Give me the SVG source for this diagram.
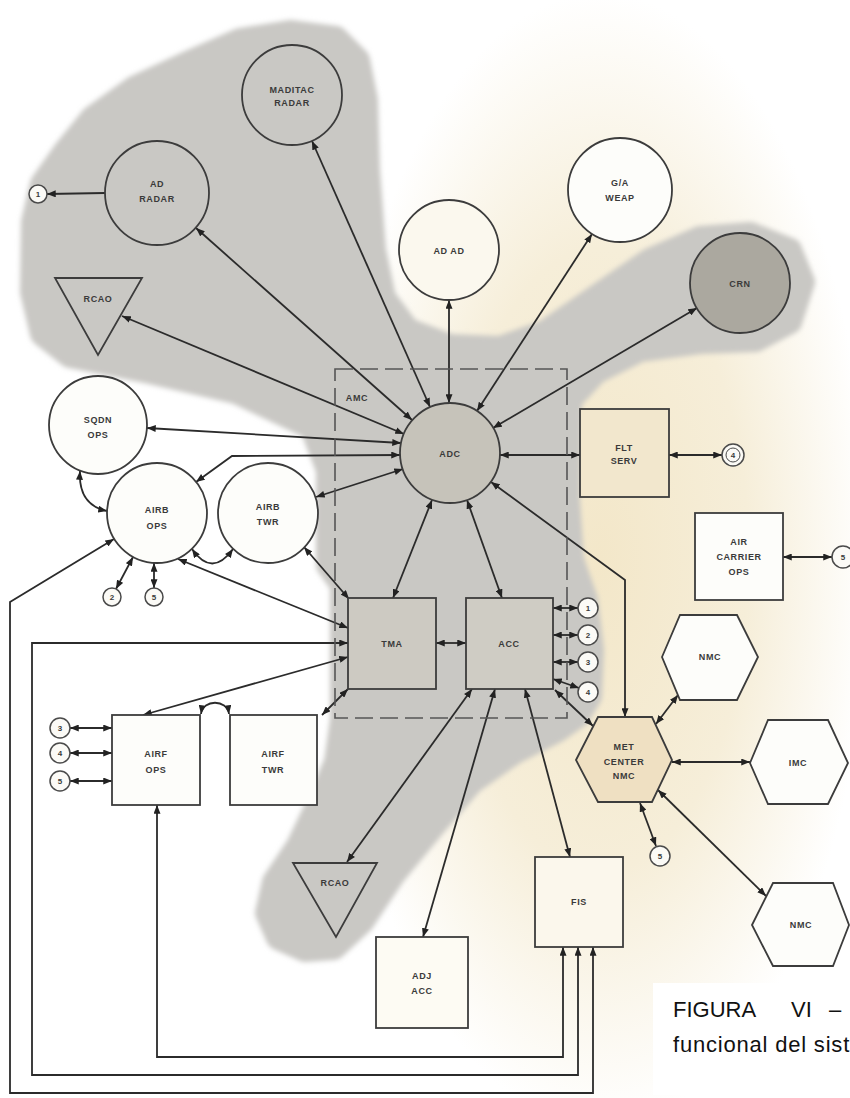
<svg xmlns="http://www.w3.org/2000/svg" width="850" height="1098" viewBox="0 0 850 1098">
  <defs>
    <radialGradient id="paper" gradientUnits="userSpaceOnUse" cx="600" cy="560" r="270" gradientTransform="translate(600 560) scale(1 2.1) translate(-600 -560)">
      <stop offset="0" stop-color="#f3e7c9"/>
      <stop offset="0.55" stop-color="#f6eed9"/>
      <stop offset="1" stop-color="#ffffff"/>
    </radialGradient>
    <filter id="soft" x="-5%" y="-5%" width="110%" height="110%">
      <feGaussianBlur stdDeviation="2.5"/>
    </filter>
    <marker id="ah" viewBox="0 0 10 8" refX="10" refY="4" markerWidth="9" markerHeight="7" markerUnits="userSpaceOnUse" orient="auto-start-reverse">
      <path d="M0,0 L10,4 L0,8 z" fill="#222"/>
    </marker>
    <style>
      .n { stroke: #3c3c3c; stroke-width: 1.8; }
      .w { fill: #fdfdfa; }
      .t { fill: none; }
      .lbl { font-family: "Liberation Sans", Arial, sans-serif; font-size: 9px; font-weight: bold; fill: #3a3a3a; text-anchor: middle; letter-spacing: 0.6px; }
      .num { font-family: "Liberation Sans", Arial, sans-serif; font-size: 8px; font-weight: bold; fill: #3a3a3a; text-anchor: middle; }
      .sc { fill: #fbfaf6; stroke: #4a4a4a; stroke-width: 1.5; }
      .c { fill: none; stroke: #2b2b2b; stroke-width: 1.8; marker-start: url(#ah); marker-end: url(#ah); }
      .c1 { fill: none; stroke: #2b2b2b; stroke-width: 1.8; marker-end: url(#ah); }
      .cap { font-family: "Liberation Sans", Arial, sans-serif; font-size: 22px; fill: #111; }
    </style>
  </defs>

  <!-- paper background -->
  <rect width="850" height="1098" fill="#ffffff"/>
  <rect width="850" height="1098" fill="url(#paper)"/>

  <!-- shaded region -->
  <g id="shade">
    <polygon filter="url(#soft)" fill="#c9c8c4" stroke="#c9c8c4" stroke-width="24" stroke-linejoin="round"
      points="66,150 92,118 134,88 190,62 240,40 290,32 336,38 358,60 366,100 368,170 374,250 384,298 408,330 450,346 500,348 545,332 600,294 650,260 700,238 750,234 790,250 803,282 790,322 756,340 700,342 640,350 596,372 570,400 568,500 572,560 586,600 592,650 590,696 578,716 558,730 515,752 472,782 432,828 394,874 362,922 334,948 305,950 278,938 267,913 274,882 298,846 320,800 336,762 342,720 342,585 328,565 328,470 312,428 236,392 150,372 70,356 42,334 32,292 33,222 42,184"/>
  </g>

  <!-- connectors -->
  <g id="connectors">
    <path class="c1" d="M105,193 L47,194"/>
    <path class="c" d="M196,228 L412,420"/>
    <path class="c" d="M312,141 L430,407"/>
    <path class="c" d="M449,300 L449,403"/>
    <path class="c" d="M592,234 L477,411"/>
    <path class="c" d="M697,308 L493,428"/>
    <path class="c" d="M122,316 L404,434"/>
    <path class="c" d="M147,428 L401,443"/>
    <path class="c" d="M196,482 L232,456 L400,455"/>
    <path class="c" d="M316,497 L403,469"/>
    <path class="c" d="M80,471 Q78,505 107,511"/>
    <path class="c" d="M192,549 Q212,578 233,549"/>
    <path class="c" d="M133,557 L116,589"/>
    <path class="c" d="M154,563 L154,588"/>
    <path class="c" d="M178,559 L348,628"/>
    <path class="c" d="M304,547 L349,599"/>
    <path class="c" d="M114,539 L10,602 L10,1093 L593,1093 L593,947"/>
    <path class="c" d="M348,643 L32,643 L32,1075 L578,1075 L578,947"/>
    <path class="c" d="M157,805 L157,1057 L563,1057 L563,947"/>
    <path class="c" d="M348,657 L143,715"/>
    <path class="c" d="M348,689 L322,715"/>
    <path class="c" d="M201,714 C203,699 227,699 229,714"/>
    <path class="c" d="M70,728 L112,728"/>
    <path class="c" d="M70,753 L112,753"/>
    <path class="c" d="M70,781 L112,781"/>
    <path class="c" d="M432,500 L393,598"/>
    <path class="c" d="M467,500 L502,598"/>
    <path class="c" d="M436,643 L466,643"/>
    <path class="c" d="M553,608 L578,608"/>
    <path class="c" d="M553,635 L578,635"/>
    <path class="c" d="M553,662 L578,662"/>
    <path class="c" d="M553,679 L579,688"/>
    <path class="c" d="M555,690 L593,726"/>
    <path class="c" d="M491,482 L625,580 L625,717"/>
    <path class="c" d="M472,689 L347,862"/>
    <path class="c" d="M495,689 L423,937"/>
    <path class="c" d="M525,689 L570,857"/>
    <path class="c" d="M500,455 L580,455"/>
    <path class="c" d="M669,455 L722,455"/>
    <path class="c" d="M783,557 L832,557"/>
    <path class="c" d="M656,724 L678,695"/>
    <path class="c" d="M672,762 L750,762"/>
    <path class="c" d="M658,790 L766,896"/>
    <path class="c" d="M640,803 L656,846"/>
  </g>

  <!-- AMC boundary -->
  <g id="amc">
    <rect x="335" y="369" width="232" height="349" fill="none" stroke="#555" stroke-width="1.6" stroke-dasharray="18 7"/>
    <text class="lbl" x="357" y="401">AMC</text>
  </g>

  <!-- nodes -->
  <g id="maditac-radar">
    <circle class="n t" cx="292" cy="95" r="50"/>
    <text class="lbl" x="292" y="93">MADITAC</text>
    <text class="lbl" x="292" y="106">RADAR</text>
  </g>
  <g id="ad-radar">
    <circle class="n t" cx="157" cy="193" r="52"/>
    <text class="lbl" x="157" y="187">AD</text>
    <text class="lbl" x="157" y="202">RADAR</text>
  </g>
  <g id="rcao-top">
    <polygon class="n t" points="55,278 142,278 98,355"/>
    <text class="lbl" x="98" y="302">RCAO</text>
  </g>
  <g id="ga-weap">
    <circle class="n w" cx="620" cy="190" r="52"/>
    <text class="lbl" x="620" y="186">G/A</text>
    <text class="lbl" x="620" y="201">WEAP</text>
  </g>
  <g id="ad-ad">
    <circle class="n" fill="#fbf8ee" cx="449" cy="250" r="50"/>
    <text class="lbl" x="449" y="254">AD AD</text>
  </g>
  <g id="crn">
    <circle class="n" fill="#aba89f" cx="740" cy="283" r="50"/>
    <text class="lbl" x="740" y="287">CRN</text>
  </g>
  <g id="sqdn-ops">
    <circle class="n w" cx="98" cy="425" r="49"/>
    <text class="lbl" x="98" y="423">SQDN</text>
    <text class="lbl" x="98" y="438">OPS</text>
  </g>
  <g id="airb-ops">
    <circle class="n w" cx="157" cy="513" r="50"/>
    <text class="lbl" x="157" y="513">AIRB</text>
    <text class="lbl" x="157" y="529">OPS</text>
  </g>
  <g id="airb-twr">
    <circle class="n w" cx="268" cy="513" r="50"/>
    <text class="lbl" x="268" y="510">AIRB</text>
    <text class="lbl" x="268" y="525">TWR</text>
  </g>
  <g id="adc">
    <circle class="n" fill="#c6c3ba" cx="450" cy="453" r="50"/>
    <text class="lbl" x="450" y="457">ADC</text>
  </g>
  <g id="flt-serv">
    <rect class="n" fill="#f2e7cd" x="580" y="409" width="89" height="88"/>
    <text class="lbl" x="624" y="451">FLT</text>
    <text class="lbl" x="624" y="464">SERV</text>
  </g>
  <g id="air-carrier-ops">
    <rect class="n w" x="695" y="513" width="88" height="87"/>
    <text class="lbl" x="739" y="545">AIR</text>
    <text class="lbl" x="739" y="560">CARRIER</text>
    <text class="lbl" x="739" y="575">OPS</text>
  </g>
  <g id="tma">
    <rect class="n" fill="#cdcac2" x="348" y="598" width="88" height="91"/>
    <text class="lbl" x="392" y="647">TMA</text>
  </g>
  <g id="acc">
    <rect class="n" fill="#cfccc4" x="466" y="598" width="87" height="91"/>
    <text class="lbl" x="509" y="647">ACC</text>
  </g>
  <g id="airf-ops">
    <rect class="n w" x="112" y="715" width="88" height="90"/>
    <text class="lbl" x="156" y="757">AIRF</text>
    <text class="lbl" x="156" y="773">OPS</text>
  </g>
  <g id="airf-twr">
    <rect class="n w" x="230" y="715" width="87" height="90"/>
    <text class="lbl" x="273" y="757">AIRF</text>
    <text class="lbl" x="273" y="773">TWR</text>
  </g>
  <g id="met-center">
    <polygon class="n" fill="#efe0c2" points="576,760 598,717 652,717 672,760 652,802 598,802"/>
    <text class="lbl" x="624" y="750">MET</text>
    <text class="lbl" x="624" y="765">CENTER</text>
    <text class="lbl" x="624" y="779">NMC</text>
  </g>
  <g id="nmc-upper">
    <polygon class="n w" points="662,657 680,615 737,615 758,657 737,700 680,700"/>
    <text class="lbl" x="710" y="660">NMC</text>
  </g>
  <g id="imc">
    <polygon class="n w" points="750,763 768,720 828,720 848,763 828,804 768,804"/>
    <text class="lbl" x="798" y="766">IMC</text>
  </g>
  <g id="nmc-lower">
    <polygon class="n w" points="752,925 773,883 833,883 849,925 833,966 773,966"/>
    <text class="lbl" x="801" y="928">NMC</text>
  </g>
  <g id="rcao-lower">
    <polygon class="n t" points="293,863 377,863 336,937"/>
    <text class="lbl" x="335" y="886">RCAO</text>
  </g>
  <g id="fis">
    <rect class="n" fill="#fbf7ec" x="535" y="857" width="88" height="90"/>
    <text class="lbl" x="579" y="905">FIS</text>
  </g>
  <g id="adj-acc">
    <rect class="n" fill="#fdfbf3" x="376" y="937" width="92" height="91"/>
    <text class="lbl" x="422" y="979">ADJ</text>
    <text class="lbl" x="422" y="994">ACC</text>
  </g>

  <!-- off-page references -->
  <g id="ref-1-left"><circle class="sc" cx="38" cy="194" r="9"/><text class="num" x="38" y="197">1</text></g>
  <g id="ref-2-airb"><circle class="sc" cx="112" cy="597" r="9"/><text class="num" x="112" y="600">2</text></g>
  <g id="ref-5-airb"><circle class="sc" cx="154" cy="597" r="9"/><text class="num" x="154" y="600">5</text></g>
  <g id="ref-3-airf"><circle class="sc" cx="60" cy="728" r="10"/><text class="num" x="60" y="731">3</text></g>
  <g id="ref-4-airf"><circle class="sc" cx="60" cy="753" r="10"/><text class="num" x="60" y="756">4</text></g>
  <g id="ref-5-airf"><circle class="sc" cx="60" cy="781" r="10"/><text class="num" x="60" y="784">5</text></g>
  <g id="ref-1-acc"><circle class="sc" cx="588" cy="608" r="10"/><text class="num" x="588" y="611">1</text></g>
  <g id="ref-2-acc"><circle class="sc" cx="588" cy="635" r="10"/><text class="num" x="588" y="638">2</text></g>
  <g id="ref-3-acc"><circle class="sc" cx="588" cy="662" r="10"/><text class="num" x="588" y="665">3</text></g>
  <g id="ref-4-acc"><circle class="sc" cx="588" cy="692" r="10"/><text class="num" x="588" y="695">4</text></g>
  <g id="ref-4-flt"><circle class="sc" cx="733" cy="455" r="11"/><circle fill="none" stroke="#4a4a4a" stroke-width="1" cx="733" cy="455" r="7"/><text class="num" x="733" y="458">4</text></g>
  <g id="ref-5-carrier"><circle class="sc" cx="843" cy="557" r="11"/><text class="num" x="843" y="560">5</text></g>
  <g id="ref-5-met"><circle class="sc" cx="660" cy="856" r="10"/><text class="num" x="660" y="859">5</text></g>

  <!-- caption -->
  <g id="caption">
    <rect x="653" y="983" width="197" height="112" fill="#ffffff"/>
    <text class="cap" x="673" y="1017">FIGURA</text>
    <text class="cap" x="791" y="1017">VI</text>
    <text class="cap" x="829" y="1017">–</text>
    <text class="cap" x="673" y="1052" letter-spacing="0.8">funcional del sist</text>
  </g>
</svg>
